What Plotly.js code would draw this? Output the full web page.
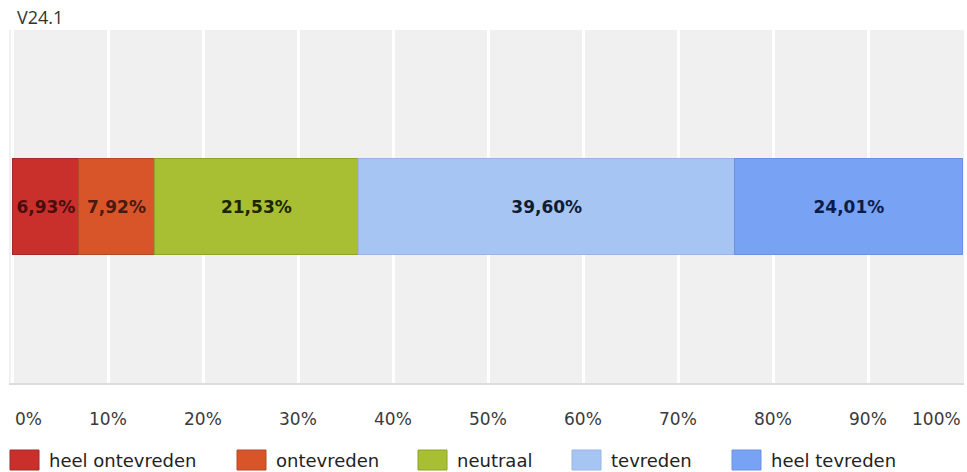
<!DOCTYPE html>
<html>
<head>
<meta charset="utf-8">
<script src="https://cdn.plot.ly/plotly-3.0.1.min.js"></script>
<style>
  html, body { margin: 0; padding: 0; background: #ffffff; }
  #chart { width: 967px; height: 472px; }
</style>
</head>
<body>
<div id="chart"></div>
<script>
// ---- data ----
const chartTitle = 'V24.1';
const categories = ['V24.1'];
const seriesNames = ['heel ontevreden', 'ontevreden', 'neutraal', 'tevreden', 'heel tevreden'];
const seriesValues = [6.93, 7.92, 21.53, 39.60, 24.01];
const tickValues = [0, 10, 20, 30, 40, 50, 60, 70, 80, 90, 100];
const tickLabels = ['0%', '10%', '20%', '30%', '40%', '50%', '60%', '70%', '80%', '90%', '100%'];

// ---- styles ----
const fillColors = ['#c9302c', '#d8552a', '#a9bf33', '#a6c5f2', '#78a2f4'];
const edgeColors = ['#a02a26', '#b04a26', '#8fa22a', '#9ab4e8', '#6a92e0'];
const textColors = ['#4a0d0d', '#4a1a10', '#1c2400', '#101a33', '#0c1c4a'];
const legendPx = [10, 237, 418, 572, 732];   // left edge of each legend swatch, in pixels

const W = 967, H = 472;
const M = { l: 9, r: 3, t: 30, b: 89 };
const plotW = W - M.l - M.r, plotH = H - M.t - M.b;
const px2paperX = px => (px - M.l) / plotW;
const px2paperY = py => (H - M.b - py) / plotH;

const traces = seriesNames.map((name, i) => ({
  type: 'bar',
  orientation: 'h',
  name: name,
  y: categories,
  x: [seriesValues[i]],
  marker: { color: fillColors[i], line: { color: edgeColors[i], width: 1 } },
  texttemplate: '%{x:.2f}%',
  textposition: 'inside',
  insidetextanchor: 'middle',
  textangle: 0,
  constraintext: 'none',
  cliponaxis: false,
  textfont: { family: 'DejaVu Sans', size: 17, color: textColors[i], weight: 'bold' },
  hovertemplate: name + ': %{x:.2f}%<extra></extra>'
}));

// tick labels
const annotations = tickValues.map((v, i) => ({
  xref: 'x', yref: 'paper',
  x: v, y: px2paperY(419),
  text: tickLabels[i],
  showarrow: false,
  xanchor: i === 0 ? 'left' : (i === tickValues.length - 1 ? 'right' : 'center'),
  yanchor: 'middle',
  font: { family: 'DejaVu Sans', size: 17, color: '#3a3a3a' }
}));

// custom legend
const shapes = [];
seriesNames.forEach((name, i) => {
  const x0 = legendPx[i];
  shapes.push({
    type: 'rect', xref: 'paper', yref: 'paper',
    x0: px2paperX(x0), x1: px2paperX(x0 + 29),
    y0: px2paperY(450), y1: px2paperY(470),
    fillcolor: fillColors[i],
    line: { color: edgeColors[i], width: 1 }
  });
  annotations.push({
    xref: 'paper', yref: 'paper',
    x: px2paperX(x0 + 37), y: px2paperY(460),
    text: name, showarrow: false,
    xanchor: 'left', yanchor: 'middle',
    font: { family: 'DejaVu Sans', size: 18, color: '#222222' }
  });
});

const layout = {
  width: W, height: H,
  margin: M,
  separators: ',.',
  paper_bgcolor: '#ffffff',
  plot_bgcolor: '#f0f0f0',
  barmode: 'stack',
  bargap: 0.73,
  showlegend: false,
  uniformtext: { minsize: 17, mode: 'show' },
  title: {
    text: chartTitle,
    xref: 'container', yref: 'container',
    x: 17 / W, xanchor: 'left',
    y: 1 - 18 / H, yanchor: 'middle',
    font: { family: 'Open Sans', size: 18, color: '#333333' }
  },
  xaxis: {
    range: [-0.42, 100.1],
    tickvals: tickValues,
    showticklabels: false,
    showgrid: true, gridcolor: '#ffffff', gridwidth: 3,
    zeroline: false,
    showline: true, linecolor: '#dcdcdc', linewidth: 2,
    ticks: '', fixedrange: true
  },
  yaxis: {
    showticklabels: false, showgrid: false, zeroline: false,
    showline: false, ticks: '', fixedrange: true
  },
  annotations: annotations,
  shapes: shapes
};

Plotly.newPlot('chart', traces, layout, { displayModeBar: false, staticPlot: true });
</script>
</body>
</html>
